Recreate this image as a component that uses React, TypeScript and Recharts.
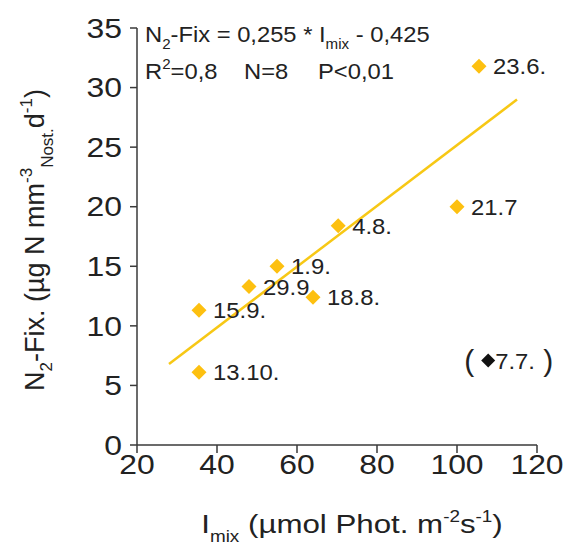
import { ScatterChart, Scatter, XAxis, YAxis, ReferenceLine } from 'recharts';

// sampling dates (labels) and readings, N2 fixation vs. mixed-layer light
const dates = ['23.6.', '21.7', '4.8.', '1.9.', '29.9', '18.8.', '15.9.', '13.10.'];
const light = [105.5, 100, 70.3, 55, 48, 64, 35.5, 35.5];
const n2fix = [31.8, 20.0, 18.4, 15.0, 13.3, 12.4, 11.3, 6.1];

// excluded point (shown in brackets)
const outlierDate = ['7.7.'];
const outlierLight = [107.8];
const outlierFix = [7.1];

// regression line ends
const fitX = [28, 115];
const fitY = [6.8, 29.0];

const xTicks = [20, 40, 60, 80, 100, 120];
const yTicks = [0, 5, 10, 15, 20, 25, 30, 35];

const points = dates.map((d, i) => ({ x: light[i], y: n2fix[i], label: d }));
const outlier = outlierDate.map((d, i) => ({ x: outlierLight[i], y: outlierFix[i], label: d }));

const FONT = '"Liberation Sans", Arial, sans-serif';
const GOLD = '#FDC010';
const AXIS = '#3a3a3a';
const INK = '#222';

// the original lettering is a bit wider than Arial, stretch it sideways
const Wide = ({ x, y, sx, children, ...rest }: any) => (
  <g transform={`translate(${x} ${y}) scale(${sx} 1)`}>
    <text x={0} y={0} fontFamily={FONT} fill={INK} {...rest}>
      {children}
    </text>
  </g>
);

const diamond = (cx: number, cy: number, r: number) =>
  `${cx},${cy - r} ${cx + r},${cy} ${cx},${cy + r} ${cx - r},${cy}`;

const GoldPoint = (props: any) => {
  const { cx, cy, payload } = props;
  return (
    <g>
      <polygon points={diamond(cx, cy, 7.5)} fill={GOLD} />
      <Wide x={cx + 14} y={cy} sx={1.06} dy="0.36em" fontSize={22.5}>
        {payload.label}
      </Wide>
    </g>
  );
};

const BlackPoint = (props: any) => {
  const { cx, cy, payload } = props;
  return (
    <g>
      <Wide x={cx - 14} y={cy} sx={1} dy="0.36em" fontSize={30} textAnchor="end">(</Wide>
      <polygon points={diamond(cx, cy, 7)} fill="#111" />
      <Wide x={cx + 7} y={cy} sx={1.06} dy="0.36em" fontSize={22.5}>
        {payload.label}
      </Wide>
      <Wide x={cx + 55} y={cy} sx={1} dy="0.36em" fontSize={30}>)</Wide>
    </g>
  );
};

const XTick = (props: any) => {
  const { x, y, payload } = props;
  return (
    <Wide x={x} y={y} sx={1.16} dy="0.71em" textAnchor="middle" fontSize={27.5}>
      {payload.value}
    </Wide>
  );
};

const YTick = (props: any) => {
  const { x, y, payload } = props;
  return (
    <Wide x={x} y={y} sx={1.16} dy="0.355em" textAnchor="end" fontSize={27.5}>
      {payload.value}
    </Wide>
  );
};

const YTitle = () => (
  <text
    x={44}
    y={240}
    transform="rotate(-90 44 240)"
    textAnchor="middle"
    fontSize={27}
    fontFamily={FONT}
    fill={INK}
  >
    <tspan>N</tspan>
    <tspan fontSize={17} dy={8}>2</tspan>
    <tspan dy={-8}>-Fix. (µg N mm</tspan>
    <tspan fontSize={17} dy={-12}>-3</tspan>
    <tspan fontSize={17} dy={21}>Nost.</tspan>
    <tspan dy={-9}>d</tspan>
    <tspan fontSize={17} dy={-12}>-1</tspan>
    <tspan dy={12}>)</tspan>
  </text>
);

const XTitle = () => (
  <Wide x={352} y={533} sx={1.18} textAnchor="middle" fontSize={26.5}>
    <tspan>I</tspan>
    <tspan fontSize={16} dy={9}>mix</tspan>
    <tspan dy={-9}> (µmol Phot. m</tspan>
    <tspan fontSize={16} dy={-11}>-2</tspan>
    <tspan dy={11}>s</tspan>
    <tspan fontSize={16} dy={-11}>-1</tspan>
    <tspan dy={11}>)</tspan>
  </Wide>
);

const Equation = () => (
  <g>
    <Wide x={145} y={42} sx={1.08} fontSize={22}>
      <tspan>N</tspan>
      <tspan fontSize={14} dy={7}>2</tspan>
      <tspan dy={-7}>-Fix = 0,255 * I</tspan>
      <tspan fontSize={14} dy={7}>mix</tspan>
      <tspan dy={-7}> - 0,425</tspan>
    </Wide>
    <Wide x={145} y={79} sx={1.08} fontSize={22}>
      <tspan>R</tspan>
      <tspan fontSize={14} dy={-10}>2</tspan>
      <tspan dy={10}>=0,8</tspan>
    </Wide>
    <Wide x={244} y={79} sx={1.08} fontSize={22}>N=8</Wide>
    <Wide x={318} y={79} sx={1.08} fontSize={22}>P&lt;0,01</Wide>
  </g>
);

const App = () => {
  return (
    <div style={{ position: 'absolute', left: 0, top: 0, width: 565, height: 548, background: '#fff' }}>
      <ScatterChart width={565} height={548} margin={{ top: 28, right: 28, bottom: 43, left: 77 }}>
        <XAxis
          type="number"
          dataKey="x"
          domain={[20, 120]}
          ticks={xTicks}
          tickSize={8}
          tickMargin={1}
          height={60}
          stroke={AXIS}
          strokeWidth={1.5}
          tick={XTick}
        />
        <YAxis
          type="number"
          dataKey="y"
          domain={[0, 35]}
          ticks={yTicks}
          tickSize={7}
          tickMargin={8}
          width={60}
          stroke={AXIS}
          strokeWidth={1.5}
          tick={YTick}
        />
        <ReferenceLine
          segment={[
            { x: fitX[0], y: fitY[0] },
            { x: fitX[1], y: fitY[1] },
          ]}
          stroke="#F7C815"
          strokeWidth={2.5}
          ifOverflow="visible"
        />
        <Scatter data={points} shape={GoldPoint} isAnimationActive={false} />
        <Scatter data={outlier} shape={BlackPoint} isAnimationActive={false} />
      </ScatterChart>
      <svg
        width={565}
        height={548}
        style={{ position: 'absolute', left: 0, top: 0, pointerEvents: 'none' }}
      >
        <YTitle />
        <XTitle />
        <Equation />
      </svg>
    </div>
  );
};

export default App;
